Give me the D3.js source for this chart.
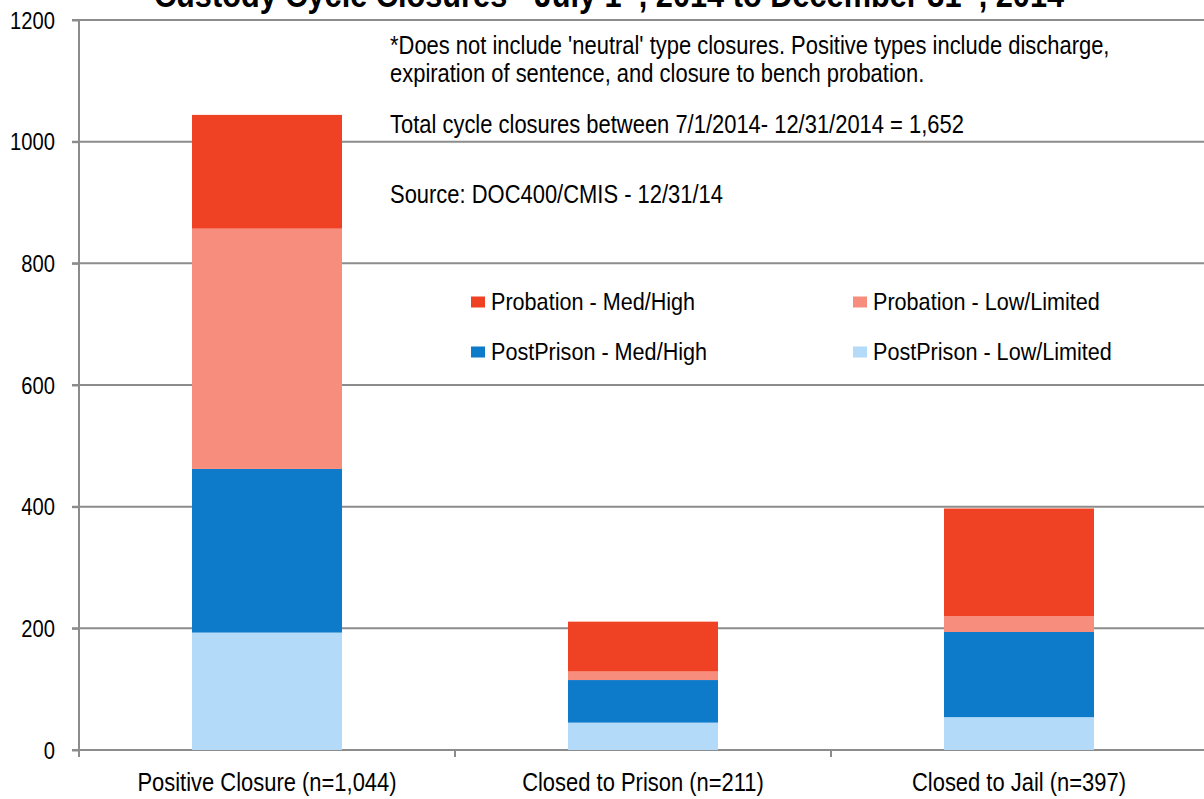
<!DOCTYPE html>
<html><head><meta charset="utf-8">
<script src="https://cdn.jsdelivr.net/npm/d3@7"></script>
<style>body{margin:0;background:#fff}svg{display:block}</style>
</head><body>
<svg id="c" width="1204" height="799"></svg>
<script>
const categories = ["Positive Closure (n=1,044)", "Closed to Prison (n=211)", "Closed to Jail (n=397)"];
const seriesNames = ["PostPrison - Low/Limited", "PostPrison - Med/High", "Probation - Low/Limited", "Probation - Med/High"];
const postPrisonLow = [193, 45, 54];
const postPrisonMed = [269, 70, 140];
const probationLow = [395, 14, 26];
const probationMed = [187, 82, 177];
const yTicks = [0, 200, 400, 600, 800, 1000, 1200];
const colors = ["#b3daf8", "#0d7aca", "#f68d7d", "#ef4225"];
const notes = ["*Does not include 'neutral' type closures. Positive types include discharge,",
  "expiration of sentence, and closure to bench probation.",
  "Total cycle closures between 7/1/2014- 12/31/2014 = 1,652",
  "Source: DOC400/CMIS  - 12/31/14"];

(function () {
const svg = d3.select("#c");
const font = "'Liberation Sans',Arial,sans-serif";
const SX = 0.878;
const mLeft = 79, mRight = 1207, mTop = 20, mBottom = 750;
const x = d3.scaleBand().domain(categories).range([mLeft, mRight]);
const y = d3.scaleLinear().domain([0, 1200]).range([mBottom, mTop]);

const rows = categories.map((c, i) => ({cat: c, s0: postPrisonLow[i], s1: postPrisonMed[i], s2: probationLow[i], s3: probationMed[i]}));
const stack = d3.stack().keys(["s0", "s1", "s2", "s3"])(rows);

svg.append("g").selectAll("line").data(yTicks).join("line")
  .attr("x1", mLeft - 7).attr("x2", 1204)
  .attr("y1", d => y(d)).attr("y2", d => y(d))
  .attr("stroke", "#8c8c8c").attr("stroke-width", 2);

const ya = svg.append("g").attr("transform", `translate(${mLeft},0)`)
  .call(d3.axisLeft(y).tickValues(yTicks).tickSize(7).tickPadding(10).tickFormat(d3.format("d")));
ya.select(".domain").remove();
ya.selectAll(".tick line").attr("stroke", "#8c8c8c").attr("stroke-width", 2);
ya.selectAll("text").attr("font-family", font).attr("font-size", 23).attr("fill", "#000")
  .attr("x", -24 / SX).attr("dy", "0.35em").attr("transform", `scale(${SX},1)`);
svg.append("line").attr("x1", mLeft).attr("x2", mLeft).attr("y1", mTop).attr("y2", mBottom + 7)
  .attr("stroke", "#8c8c8c").attr("stroke-width", 2);

const xa = svg.append("g").attr("transform", `translate(0,${mBottom})`)
  .call(d3.axisBottom(x).tickSize(0).tickPadding(0));
xa.select(".domain").remove();
xa.selectAll("text").attr("font-family", font).attr("font-size", 25).attr("fill", "#000")
  .attr("y", 41).attr("dy", 0).attr("transform", `scale(${SX},1)`);
svg.append("g").selectAll("line").data(categories.slice(1)).join("line")
  .attr("x1", d => x(d)).attr("x2", d => x(d)).attr("y1", mBottom).attr("y2", mBottom + 7)
  .attr("stroke", "#8c8c8c").attr("stroke-width", 2);

const bw = 150;
svg.append("g").selectAll("g").data(stack).join("g")
  .attr("fill", (d, i) => colors[i])
  .selectAll("rect").data(d => d).join("rect")
  .attr("x", d => x(d.data.cat) + x.bandwidth() / 2 - bw / 2)
  .attr("width", bw)
  .attr("y", d => y(d[1]))
  .attr("height", d => y(d[0]) - y(d[1]));

const t = svg.append("g").attr("transform", "translate(609,7)").append("text")
  .attr("text-anchor", "middle").attr("transform", `scale(${SX},1)`)
  .attr("font-family", font).attr("font-weight", "bold").attr("font-size", 35).attr("fill", "#000");
t.append("tspan").text("Custody Cycle Closures - July 1");
t.append("tspan").attr("font-size", 22).attr("dy", -13).text("st");
t.append("tspan").attr("dy", 13).text(", 2014 to December 31");
t.append("tspan").attr("font-size", 22).attr("dy", -13).text("st");
t.append("tspan").attr("dy", 13).text(", 2014");

const noteY = [54, 82, 133, 203];
svg.append("g").selectAll("g").data(notes).join("g")
  .attr("transform", (d, i) => `translate(390,${noteY[i]})`)
  .append("text").attr("transform", `scale(${SX},1)`)
  .attr("font-family", font).attr("font-size", 25).attr("fill", "#000").text(d => d);

const legendItems = [
  {name: seriesNames[3], c: colors[3], lx: 471, ly: 302},
  {name: seriesNames[2], c: colors[2], lx: 853, ly: 302},
  {name: seriesNames[1], c: colors[1], lx: 471, ly: 352},
  {name: seriesNames[0], c: colors[0], lx: 853, ly: 352}];
const lg = svg.append("g").selectAll("g").data(legendItems).join("g")
  .attr("transform", d => `translate(${d.lx},${d.ly})`);
lg.append("rect").attr("x", 0).attr("y", -5.5).attr("width", 14).attr("height", 11).attr("fill", d => d.c);
lg.append("g").attr("transform", "translate(20,8)").append("text")
  .attr("transform", `scale(0.9,1)`).attr("font-family", font).attr("font-size", 24)
  .attr("fill", "#000").text(d => d.name);
})();
</script>
</body></html>
